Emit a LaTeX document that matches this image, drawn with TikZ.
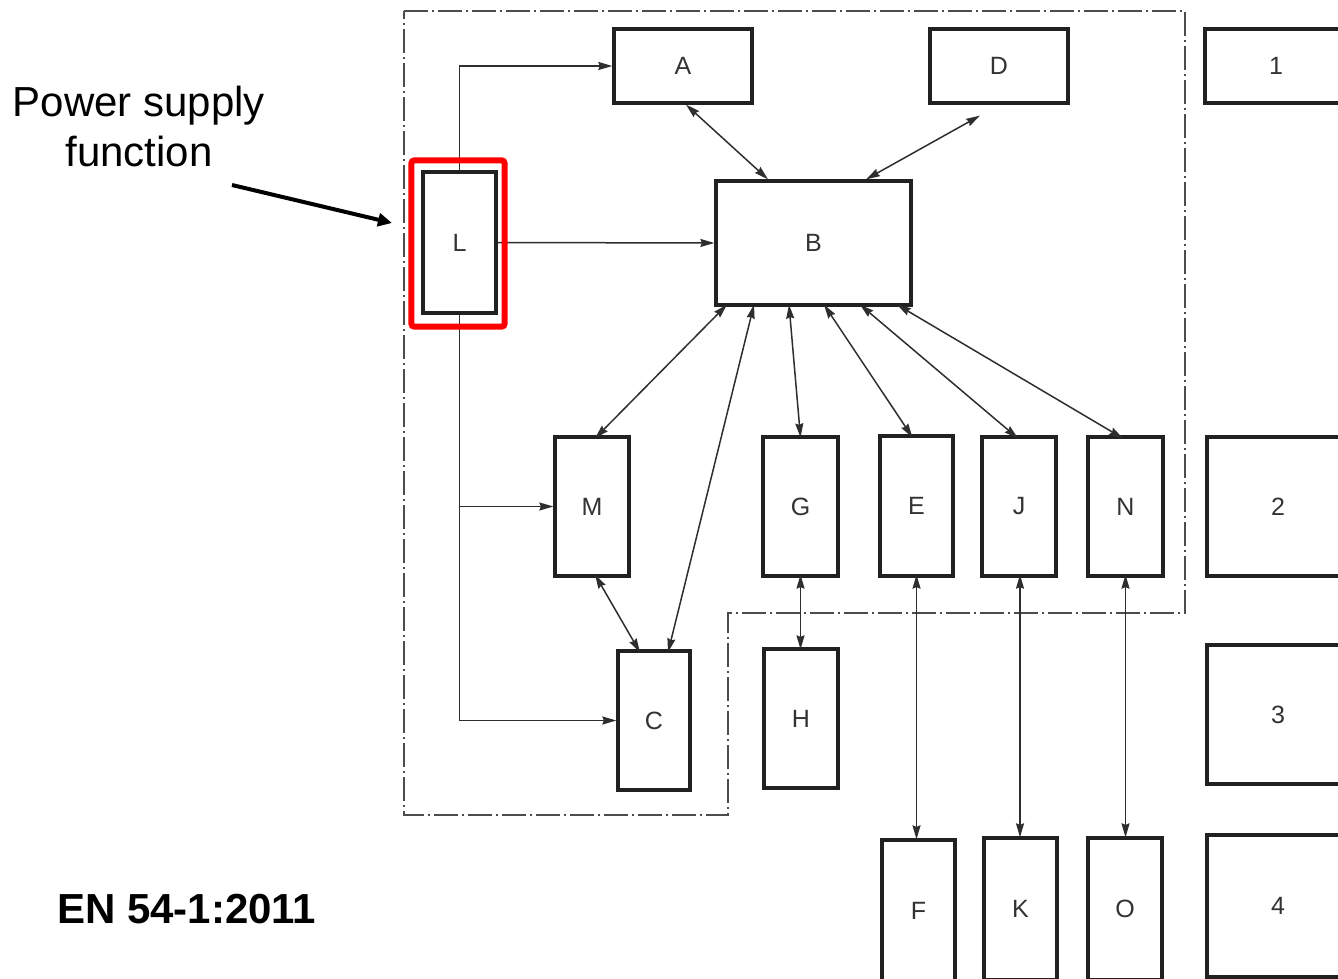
\documentclass[tikz,border=0pt]{standalone}
\usepackage{fontspec}
\setmainfont{Liberation Sans}
\usetikzlibrary{arrows.meta,calc}
\begin{document}
\begin{tikzpicture}[x=1pt,y=-1pt,
  >={Stealth[length=14pt,width=8pt,inset=1.5pt]},
  bx/.style={draw=black!87, line width=3.3pt, fill=white, inner sep=0pt,
    font=\fontsize{25}{29}\selectfont, text=black!80},
  con/.style={draw=black!82, line width=1.5pt},
  bound/.style={draw=black!70, line width=1.5pt,
    dash pattern=on 24pt off 4pt on 2pt off 4pt},
  hilite/.style={draw=red, line width=6pt, rounded corners=3pt},
  pointer/.style={draw=black, line width=4pt,
    -{Triangle[length=14pt,width=13pt]}},
  note/.style={font=\fontsize{42}{50}\selectfont, align=center, inner sep=0pt}]
\useasboundingbox (0,0) rectangle (1338,979);
\clip (0,0) rectangle (1338,979);

% boundary
\draw[bound] (404,11) -- (1185,11) -- (1185,613) -- (728,613) -- (728,815) -- (404,815) -- cycle;

% boxes
\node[bx,minimum width=138pt,minimum height=74pt] (A) at (683,66) {A};
\node[bx,minimum width=138pt,minimum height=74pt] (D) at (999,66) {D};
\node[bx,minimum width=142pt,minimum height=74pt] (b1) at (1276,66) {1};
\node[bx,minimum width=73pt,minimum height=141pt] (L) at (459.5,242.5) {L};
\node[bx,minimum width=195pt,minimum height=124pt] (B) at (813.5,243) {B};
\node[bx,minimum width=74pt,minimum height=139pt] (M) at (592,506.5) {M};
\node[bx,minimum width=75pt,minimum height=139pt] (G) at (800.5,506.5) {G};
\node[bx,minimum width=73pt,minimum height=140pt] (E) at (916.5,506) {E};
\node[bx,minimum width=74pt,minimum height=139pt] (J) at (1019,506.5) {J};
\node[bx,minimum width=75pt,minimum height=139pt] (N) at (1125.5,506.5) {N};
\node[bx,minimum width=142pt,minimum height=139pt] (b2) at (1278,506.5) {2};
\node[bx,minimum width=72pt,minimum height=139pt] (C) at (654,720.5) {C};
\node[bx,minimum width=74pt,minimum height=139pt] (H) at (801,718.5) {H};
\node[bx,minimum width=142pt,minimum height=139pt] (b3) at (1278,714.5) {3};
\node[bx,minimum width=73pt,minimum height=141pt] (F) at (918.5,910.5) {F};
\node[bx,minimum width=73pt,minimum height=142pt] (K) at (1020.5,909) {K};
\node[bx,minimum width=74pt,minimum height=142pt] (O) at (1125,909) {O};
\node[bx,minimum width=142pt,minimum height=142pt] (b4) at (1278,906) {4};

% power connections from L
\draw[con,->] (L.north) |- (A.west);
\draw[con,->] (L.east) -- (B.west);
\draw[con,->] (L.south) |- (C.west);
\draw[con,->] (L.south |- M.west) -- (M.west);

% data connections
\draw[con,<->] ([xshift=3pt]A.south) -- ([xshift=-45.5pt]B.north);
\draw[con,<->] ([xshift=-19pt,yshift=-11pt]D.south) -- ([xshift=52.5pt]B.north);
\draw[con,<->] ([xshift=-86.5pt,yshift=2pt]B.south) -- ([xshift=3pt,yshift=-3pt]M.north);
\draw[con,<->] ([xshift=-59.5pt,yshift=2pt]B.south) -- ([xshift=14pt,yshift=-3pt]C.north);
\draw[con,<->] ([xshift=-24.5pt,yshift=2pt]B.south) -- ([yshift=-2pt]G.north);
\draw[con,<->] ([xshift=10.5pt,yshift=2pt]B.south) -- ([xshift=-4pt,yshift=-3pt]E.north);
\draw[con,<->] ([xshift=46.5pt,yshift=2pt]B.south) -- ([xshift=-1pt,yshift=-3pt]J.north);
\draw[con,<->] ([xshift=83.5pt,yshift=2pt]B.south) -- ([xshift=-2.5pt,yshift=-3pt]N.north);
\draw[con,<->] ([xshift=3pt,yshift=3pt]M.south) -- ([xshift=-14pt,yshift=-3pt]C.north);
\draw[con,<->] ([yshift=3pt]G.south) -- ([yshift=-2pt]G.south |- H.north);
\draw[con,<->] ([yshift=3pt]E.south) -- ([yshift=-1pt]E.south |- F.north);
\draw[con,<->] ([xshift=1pt,yshift=3pt]J.south) -- ([xshift=1pt,yshift=-1pt]J.south |- K.north);
\draw[con,<->] ([yshift=3pt]N.south) -- ([yshift=-1pt]N.south |- O.north);

% highlight of L
\draw[hilite] ([shift={(-10pt,10pt)}]L.north west) rectangle ([shift={(7pt,-12pt)}]L.south east);

% annotation
\node[note] (ps) at (139,126) {Power supply\\function};
\coordinate (psfrom) at (232,185);
\coordinate (psto) at (392,223);
\draw[pointer] (psfrom) -- (psto);

\node[font=\fontsize{42}{50}\selectfont\bfseries, anchor=base west, inner sep=0pt] (std) at (57,923) {EN 54-1:2011};
\end{tikzpicture}
\end{document}
